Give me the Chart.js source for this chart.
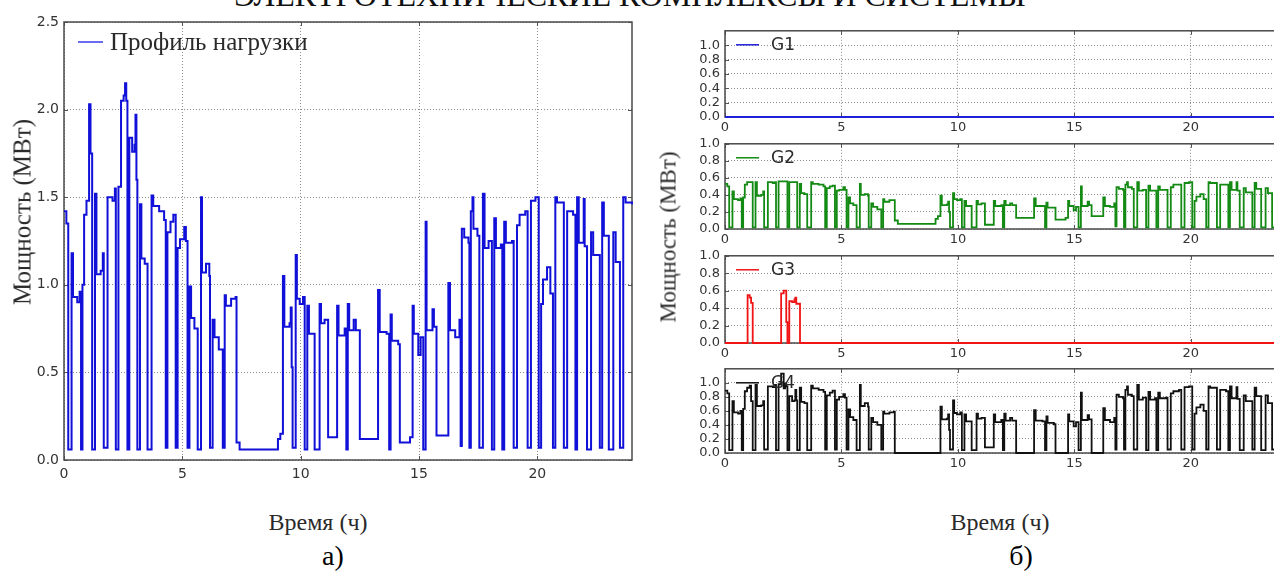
<!DOCTYPE html>
<html>
<head>
<meta charset="utf-8">
<script src="https://cdn.jsdelivr.net/npm/chart.js@4.4.1/dist/chart.umd.min.js"></script>
<style>
    body {
        margin: 0;
        width: 1274px;
        height: 575px;
        overflow: hidden;
        position: relative;
        background: #fff;
        font-family: "Liberation Serif", "Times New Roman", serif;
    }
    canvas {
        position: absolute;
    }
    .label {
        position: absolute;
        white-space: nowrap;
        line-height: 1;
        color: #2a2a2a;
        transform: translate(-50%, -50%);
    }
    .label.rotated {
        transform: translate(-50%, -50%) rotate(-90deg);
    }
    #header {
        position: absolute;
        left: 630px;
        top: -21px;
        transform: translateX(-50%);
        white-space: nowrap;
        font-size: 32px;
        line-height: 1;
        color: #111;
    }
</style>
</head>
<body>
<div id="header">ЭЛЕКТРОТЕХНИЧЕСКИЕ КОМПЛЕКСЫ И СИСТЕМЫ</div>

<canvas id="load-chart" width="640" height="495" style="left:0;top:0"></canvas>
<canvas id="g1-chart" width="640" height="119" style="left:650px;top:18px"></canvas>
<canvas id="g2-chart" width="640" height="118" style="left:650px;top:131px"></canvas>
<canvas id="g3-chart" width="640" height="120" style="left:650px;top:243px"></canvas>
<canvas id="g4-chart" width="640" height="117" style="left:650px;top:356px"></canvas>

<div class="label rotated" style="left:22px;top:212px;font-size:25px">Мощность (МВт)</div>
<div class="label rotated" style="left:668px;top:237px;font-size:23px">Мощность (МВт)</div>
<div class="label" style="left:318px;top:522px;font-size:24px">Время (ч)</div>
<div class="label" style="left:1000px;top:522px;font-size:24px">Время (ч)</div>
<div class="label" style="left:333px;top:556px;font-size:28px;color:#000">а)</div>
<div class="label" style="left:1021px;top:556px;font-size:28px;color:#000">б)</div>

<script>
    // time of each level change (h); a value holds until the next time
    const hours = [
        0.00, 0.10, 0.18, 0.32, 0.38, 0.56, 0.66, 0.72, 0.78, 0.85,
        0.95, 1.06, 1.12, 1.19, 1.31, 1.37, 1.55, 1.64, 1.68, 1.84,
        2.05, 2.15, 2.19, 2.30, 2.41, 2.52, 2.58, 2.63, 2.68, 2.76,
        2.88, 2.98, 3.02, 3.06, 3.10, 3.21, 3.27, 3.41, 3.53, 3.70,
        3.77, 4.02, 4.23, 4.30, 4.37, 4.50, 4.62, 4.72, 4.80, 4.90,
        5.08, 5.15, 5.22, 5.30, 5.37, 5.51, 5.65, 5.79, 5.83, 6.00,
        6.14, 6.17, 6.28, 6.36, 6.54, 6.71, 6.79, 6.84, 7.06, 7.25,
        7.29, 7.42, 9.04, 9.14, 9.25, 9.31, 9.53, 9.58, 9.62, 9.66,
        9.79, 9.84, 9.96, 10.10, 10.17, 10.28, 10.35, 10.59, 10.80, 10.86,
        11.01, 11.16, 11.54, 11.60, 11.86, 11.93, 11.99, 12.05, 12.24, 12.33,
        12.50, 13.27, 13.34, 13.63, 13.74, 13.80, 13.85, 14.12, 14.19, 14.62,
        14.73, 14.78, 14.97, 15.07, 15.18, 15.28, 15.32, 15.57, 15.63, 15.74,
        16.24, 16.31, 16.53, 16.71, 16.76, 16.81, 16.91, 17.09, 17.13, 17.19,
        17.26, 17.30, 17.47, 17.55, 17.70, 17.77, 17.94, 18.08, 18.18, 18.25,
        18.46, 18.52, 18.60, 18.67, 18.93, 19.00, 19.14, 19.25, 19.49, 19.59,
        19.73, 19.92, 20.06, 20.16, 20.24, 20.41, 20.55, 20.66, 20.76, 20.83,
        21.12, 21.26, 21.51, 21.61, 21.68, 21.75, 21.96, 22.00, 22.10, 22.27,
        22.36, 22.64, 22.74, 22.81, 23.02, 23.21, 23.31, 23.49, 23.63, 23.73,
        24.00
    ];

    const loadMW = [
        1.42, 1.35, 0.06, 1.18, 0.93, 0.90, 0.96, 0.06, 1.00, 1.40,
        1.48, 2.03, 1.75, 0.06, 1.52, 1.06, 1.08, 1.18, 0.07, 1.50,
        1.48, 1.55, 0.06, 1.56, 2.05, 2.08, 2.15, 2.05, 0.06, 1.84,
        1.76, 1.80, 1.97, 1.60, 0.06, 1.46, 1.15, 1.12, 0.06, 1.51,
        1.45, 1.42, 1.37, 0.07, 1.30, 1.36, 1.40, 0.07, 1.21, 1.26,
        1.33, 1.25, 0.07, 0.99, 0.81, 0.75, 0.06, 1.50, 1.07, 1.12,
        1.05, 0.07, 0.80, 0.70, 0.63, 0.07, 0.94, 0.88, 0.92, 0.93,
        0.10, 0.06, 0.12, 0.15, 1.05, 0.76, 0.78, 0.87, 0.53, 0.07,
        1.17, 0.92, 0.89, 0.93, 0.06, 0.88, 0.72, 0.06, 0.89, 0.78,
        0.80, 0.13, 0.88, 0.71, 0.75, 0.06, 0.89, 0.74, 0.80, 0.74,
        0.12, 0.97, 0.73, 0.72, 0.06, 0.83, 0.68, 0.66, 0.10, 0.13,
        0.88, 0.72, 0.60, 0.70, 0.06, 1.36, 0.74, 0.86, 0.76, 0.14,
        1.01, 0.74, 0.70, 0.80, 0.08, 1.32, 1.27, 1.24, 0.07, 1.42,
        1.50, 1.32, 1.28, 0.07, 1.52, 1.21, 1.25, 0.06, 1.38, 1.21,
        1.23, 0.06, 1.36, 1.24, 1.25, 0.07, 1.34, 1.40, 1.42, 0.07,
        1.48, 1.50, 0.07, 0.89, 1.03, 1.10, 0.95, 0.07, 1.50, 1.47,
        0.07, 1.42, 1.40, 0.06, 1.50, 1.24, 1.49, 1.22, 0.06, 1.30,
        1.17, 0.07, 1.47, 1.28, 0.06, 1.30, 1.13, 0.07, 1.50, 1.47,
        1.46
    ];

    const g2MW = [
        0.53, 0.50, 0.02, 0.44, 0.35, 0.34, 0.36, 0.02, 0.37, 0.52,
        0.55, 0.55, 0.55, 0.02, 0.55, 0.39, 0.40, 0.44, 0.02, 0.55,
        0.54, 0.55, 0.02, 0.56, 0.56, 0.56, 0.56, 0.56, 0.02, 0.55,
        0.55, 0.55, 0.55, 0.55, 0.02, 0.53, 0.42, 0.41, 0.02, 0.55,
        0.53, 0.52, 0.50, 0.02, 0.48, 0.50, 0.51, 0.02, 0.45, 0.46,
        0.49, 0.46, 0.02, 0.37, 0.30, 0.28, 0.02, 0.53, 0.40, 0.41,
        0.39, 0.02, 0.30, 0.26, 0.23, 0.02, 0.35, 0.32, 0.34, 0.34,
        0.10, 0.06, 0.12, 0.15, 0.39, 0.28, 0.29, 0.32, 0.20, 0.02,
        0.42, 0.35, 0.34, 0.35, 0.02, 0.33, 0.27, 0.02, 0.33, 0.29,
        0.30, 0.05, 0.33, 0.27, 0.28, 0.02, 0.33, 0.28, 0.30, 0.28,
        0.13, 0.36, 0.27, 0.27, 0.02, 0.31, 0.25, 0.25, 0.11, 0.13,
        0.33, 0.27, 0.22, 0.26, 0.02, 0.50, 0.27, 0.32, 0.28, 0.15,
        0.37, 0.27, 0.26, 0.30, 0.03, 0.49, 0.47, 0.46, 0.02, 0.52,
        0.55, 0.49, 0.47, 0.02, 0.55, 0.45, 0.46, 0.02, 0.51, 0.45,
        0.45, 0.02, 0.50, 0.46, 0.46, 0.02, 0.49, 0.52, 0.52, 0.02,
        0.54, 0.55, 0.02, 0.33, 0.38, 0.41, 0.35, 0.02, 0.55, 0.54,
        0.02, 0.52, 0.52, 0.02, 0.55, 0.46, 0.55, 0.45, 0.02, 0.48,
        0.43, 0.02, 0.54, 0.47, 0.02, 0.48, 0.42, 0.02, 0.55, 0.54,
        0.54
    ];

    const g4MW = [
        0.89, 0.85, 0.04, 0.74, 0.58, 0.56, 0.60, 0.04, 0.63, 0.88,
        0.93, 0.96, 0.74, 0.04, 0.97, 0.67, 0.68, 0.74, 0.05, 0.95,
        0.94, 0.97, 0.04, 0.98, 1.13, 0.92, 0.99, 0.95, 0.04, 0.81,
        0.74, 0.75, 0.90, 0.75, 0.04, 0.93, 0.73, 0.71, 0.04, 0.96,
        0.92, 0.90, 0.87, 0.05, 0.82, 0.86, 0.89, 0.05, 0.76, 0.80,
        0.84, 0.79, 0.05, 0.62, 0.51, 0.47, 0.04, 0.97, 0.67, 0.71,
        0.66, 0.05, 0.50, 0.44, 0.40, 0.05, 0.59, 0.56, 0.58, 0.59,
        0.00, 0.00, 0.00, 0.00, 0.66, 0.48, 0.49, 0.55, 0.33, 0.05,
        0.75, 0.57, 0.55, 0.58, 0.04, 0.55, 0.45, 0.04, 0.56, 0.49,
        0.50, 0.08, 0.55, 0.44, 0.47, 0.04, 0.56, 0.46, 0.50, 0.46,
        0.00, 0.61, 0.46, 0.45, 0.04, 0.52, 0.43, 0.41, 0.00, 0.00,
        0.55, 0.45, 0.38, 0.44, 0.04, 0.86, 0.47, 0.54, 0.48, 0.00,
        0.64, 0.47, 0.44, 0.50, 0.05, 0.83, 0.80, 0.78, 0.05, 0.90,
        0.95, 0.83, 0.81, 0.05, 0.97, 0.76, 0.79, 0.04, 0.87, 0.76,
        0.78, 0.04, 0.86, 0.78, 0.79, 0.05, 0.85, 0.88, 0.90, 0.05,
        0.94, 0.95, 0.05, 0.56, 0.65, 0.69, 0.60, 0.05, 0.95, 0.93,
        0.05, 0.90, 0.88, 0.04, 0.95, 0.78, 0.94, 0.77, 0.04, 0.82,
        0.74, 0.05, 0.93, 0.81, 0.04, 0.82, 0.71, 0.05, 0.95, 0.93,
        0.92
    ];

    const g1Hours = [0, 24];
    const g1MW = [0, 0];

    const g3Hours = [0, 0.97, 1.06, 1.12, 1.19, 2.41, 2.52, 2.63, 2.68, 2.76, 2.88, 2.98, 3.02, 3.06, 3.22, 24];
    const g3MW = [0, 0.55, 0.52, 0.46, 0, 0.57, 0.60, 0.24, 0, 0.48, 0.47, 0.50, 0.52, 0.45, 0, 0];

    const hourTicks = [0, 5, 10, 15, 20];
    const loadTicks = [0, 0.5, 1.0, 1.5, 2.0, 2.5];
    const panelTicks = [0, 0.2, 0.4, 0.6, 0.8, 1.0];

    function toPoints(xs, ys) {
        return xs.map((x, i) => ({x: x, y: ys[i]}));
    }

    // frame with inward ticks under the data, legend on top, like the matplotlib original
    const framePlugin = {
        id: 'frame',
        beforeDatasetsDraw(chart) {
            const ctx = chart.ctx;
            const a = chart.chartArea;
            const xs = chart.scales.x;
            const ys = chart.scales.y;
            ctx.save();
            ctx.strokeStyle = '#555';
            ctx.lineWidth = 1;
            xs.ticks.forEach(t => {
                const px = Math.round(xs.getPixelForValue(t.value)) + 0.5;
                ctx.beginPath();
                ctx.moveTo(px, a.bottom);
                ctx.lineTo(px, a.bottom - 4);
                ctx.moveTo(px, a.top);
                ctx.lineTo(px, a.top + 4);
                ctx.stroke();
            });
            ys.ticks.forEach(t => {
                const py = Math.round(ys.getPixelForValue(t.value)) + 0.5;
                ctx.beginPath();
                ctx.moveTo(a.left, py);
                ctx.lineTo(a.left + 4, py);
                ctx.moveTo(a.right, py);
                ctx.lineTo(a.right - 4, py);
                ctx.stroke();
            });
            ctx.strokeStyle = '#4a4a4a';
            ctx.lineWidth = 1.5;
            ctx.strokeRect(a.left, a.top, a.right - a.left, a.bottom - a.top);
            ctx.restore();
        },
        afterDatasetsDraw(chart, args, opts) {
            if (!opts.label) return;
            const ctx = chart.ctx;
            const a = chart.chartArea;
            const y = a.top + opts.y;
            ctx.save();
            ctx.strokeStyle = opts.color;
            ctx.lineWidth = 1.5;
            ctx.beginPath();
            ctx.moveTo(a.left + opts.lineFrom, y);
            ctx.lineTo(a.left + opts.lineTo, y);
            ctx.stroke();
            ctx.fillStyle = '#2a2a2a';
            ctx.font = opts.font;
            ctx.textBaseline = 'middle';
            ctx.fillText(opts.label, a.left + opts.textX, y + 1);
            ctx.restore();
        }
    };

    function makeOptions(cfg) {
        const tickFont = {family: 'DejaVu Sans', size: cfg.fontSize};
        const grid = {color: 'rgba(0,0,0,0.45)', lineWidth: 1, drawTicks: false};
        const border = {display: false, dash: [1, 2]};
        return {
            responsive: false,
            animation: false,
            events: [],
            layout: {padding: {top: cfg.padTop, right: cfg.padRight, left: 0, bottom: 0}},
            plugins: {
                legend: {display: false},
                tooltip: {enabled: false},
                frame: cfg.legend
            },
            scales: {
                x: {
                    type: 'linear',
                    min: 0,
                    max: 24,
                    afterBuildTicks: s => {
                        s.ticks = hourTicks.map(v => ({value: v}));
                    },
                    afterFit: s => {
                        s.height = cfg.xHeight;
                    },
                    ticks: {
                        autoSkip: false,
                        maxRotation: 0,
                        padding: cfg.xPad,
                        color: '#333',
                        font: tickFont,
                        callback: v => String(v)
                    },
                    grid: grid,
                    border: border
                },
                y: {
                    type: 'linear',
                    min: 0,
                    max: cfg.yMax,
                    afterBuildTicks: s => {
                        s.ticks = cfg.yTicks.map(v => ({value: v}));
                    },
                    afterFit: s => {
                        s.width = cfg.yWidth;
                    },
                    ticks: {
                        autoSkip: false,
                        padding: 5,
                        color: '#333',
                        font: tickFont,
                        callback: v => v.toFixed(1)
                    },
                    grid: grid,
                    border: border
                }
            }
        };
    }

    function lineDataset(xs, ys, color, width) {
        return {
            data: toPoints(xs, ys),
            borderColor: color,
            borderWidth: width,
            pointRadius: 0,
            stepped: true,
            fill: false,
            clip: false
        };
    }

    new Chart(document.getElementById('load-chart'), {
        type: 'line',
        data: {datasets: [lineDataset(hours, loadMW, '#1010d8', 2)]},
        options: makeOptions({
            padTop: 22, padRight: 8, xHeight: 35, yWidth: 64, xPad: 6, fontSize: 14,
            yMax: 2.5, yTicks: loadTicks,
            legend: {label: 'Профиль нагрузки', color: '#3a3aee', font: '25px "Liberation Serif"',
                lineFrom: 14, lineTo: 39, textX: 46, y: 20}
        }),
        plugins: [framePlugin]
    });

    const panels = [
        {id: 'g1-chart', label: 'G1', xs: g1Hours, ys: g1MW, color: '#2020d8', yMax: 1.2},
        {id: 'g2-chart', label: 'G2', xs: hours, ys: g2MW, color: '#138a13', yMax: 1.0},
        {id: 'g3-chart', label: 'G3', xs: g3Hours, ys: g3MW, color: '#f01414', yMax: 1.0},
        {id: 'g4-chart', label: 'G4', xs: hours, ys: g4MW, color: '#111111', yMax: 1.2}
    ];

    panels.forEach(p => {
        new Chart(document.getElementById(p.id), {
            type: 'line',
            data: {datasets: [lineDataset(p.xs, p.ys, p.color, 1.8)]},
            options: makeOptions({
                padTop: 6, padRight: 6, xHeight: 20, yWidth: 75, xPad: 3, fontSize: 13,
                yMax: p.yMax, yTicks: panelTicks,
                legend: {label: p.label, color: p.color, font: '17px "DejaVu Sans"',
                    lineFrom: 11, lineTo: 34, textX: 46, y: 14}
            }),
            plugins: [framePlugin]
        });
    });
</script>
</body>
</html>
